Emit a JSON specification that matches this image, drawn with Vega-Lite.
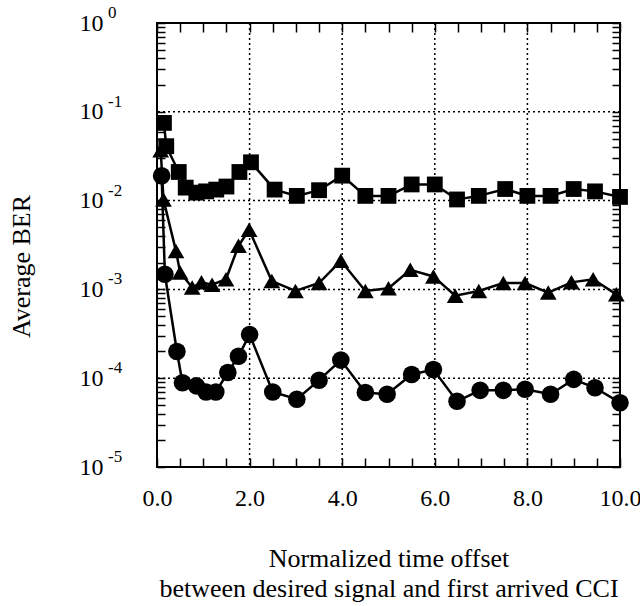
{
  "$schema": "https://vega.github.io/schema/vega-lite/v6.json",
  "width": 463,
  "height": 444,
  "autosize": {"type": "none"},
  "padding": {"left": 157, "top": 23, "right": 20, "bottom": 139},
  "background": "white",
  "config": {
    "view": {"stroke": "black", "strokeWidth": 2},
    "font": "Liberation Serif"
  },
  "datasets": {
    "ber": [
      {"series": "square", "t": 0.15, "ber": 0.075},
      {"series": "square", "t": 0.2, "ber": 0.041},
      {"series": "square", "t": 0.47, "ber": 0.021},
      {"series": "square", "t": 0.62, "ber": 0.014},
      {"series": "square", "t": 0.85, "ber": 0.0123},
      {"series": "square", "t": 1.06, "ber": 0.0127},
      {"series": "square", "t": 1.28, "ber": 0.0133},
      {"series": "square", "t": 1.5, "ber": 0.0144},
      {"series": "square", "t": 1.78, "ber": 0.021},
      {"series": "square", "t": 2.03, "ber": 0.027},
      {"series": "square", "t": 2.54, "ber": 0.0133},
      {"series": "square", "t": 3.02, "ber": 0.0113},
      {"series": "square", "t": 3.5, "ber": 0.0131},
      {"series": "square", "t": 4.0, "ber": 0.0191},
      {"series": "square", "t": 4.5, "ber": 0.0113},
      {"series": "square", "t": 5.0, "ber": 0.0113},
      {"series": "square", "t": 5.5, "ber": 0.0152},
      {"series": "square", "t": 6.0, "ber": 0.0152},
      {"series": "square", "t": 6.48, "ber": 0.0103},
      {"series": "square", "t": 6.95, "ber": 0.0113},
      {"series": "square", "t": 7.52, "ber": 0.0135},
      {"series": "square", "t": 8.0, "ber": 0.0113},
      {"series": "square", "t": 8.5, "ber": 0.0113},
      {"series": "square", "t": 9.0, "ber": 0.0135},
      {"series": "square", "t": 9.46, "ber": 0.0127},
      {"series": "square", "t": 10.0, "ber": 0.011},
      {"series": "triangle", "t": 0.08, "ber": 0.037},
      {"series": "triangle", "t": 0.14, "ber": 0.0103},
      {"series": "triangle", "t": 0.41, "ber": 0.0027},
      {"series": "triangle", "t": 0.5, "ber": 0.00155},
      {"series": "triangle", "t": 0.76, "ber": 0.00105},
      {"series": "triangle", "t": 0.96, "ber": 0.0012},
      {"series": "triangle", "t": 1.19, "ber": 0.00113},
      {"series": "triangle", "t": 1.49, "ber": 0.0013},
      {"series": "triangle", "t": 1.76, "ber": 0.0031},
      {"series": "triangle", "t": 1.99, "ber": 0.0047},
      {"series": "triangle", "t": 2.48, "ber": 0.00124},
      {"series": "triangle", "t": 2.99, "ber": 0.00096},
      {"series": "triangle", "t": 3.5, "ber": 0.00118},
      {"series": "triangle", "t": 3.97, "ber": 0.0021},
      {"series": "triangle", "t": 4.5, "ber": 0.00096},
      {"series": "triangle", "t": 5.0, "ber": 0.00103},
      {"series": "triangle", "t": 5.47, "ber": 0.00166},
      {"series": "triangle", "t": 5.97, "ber": 0.0014},
      {"series": "triangle", "t": 6.44, "ber": 0.00085},
      {"series": "triangle", "t": 6.95, "ber": 0.00096},
      {"series": "triangle", "t": 7.48, "ber": 0.00118},
      {"series": "triangle", "t": 7.95, "ber": 0.00118},
      {"series": "triangle", "t": 8.45, "ber": 0.00092},
      {"series": "triangle", "t": 8.95, "ber": 0.0012},
      {"series": "triangle", "t": 9.42, "ber": 0.0013},
      {"series": "triangle", "t": 9.92, "ber": 0.00088},
      {"series": "circle", "t": 0.1, "ber": 0.019},
      {"series": "circle", "t": 0.17, "ber": 0.00148},
      {"series": "circle", "t": 0.43, "ber": 0.0002},
      {"series": "circle", "t": 0.55, "ber": 0.000089},
      {"series": "circle", "t": 0.85, "ber": 0.000082},
      {"series": "circle", "t": 1.06, "ber": 0.00007},
      {"series": "circle", "t": 1.27, "ber": 0.00007},
      {"series": "circle", "t": 1.53, "ber": 0.000116},
      {"series": "circle", "t": 1.76, "ber": 0.000177},
      {"series": "circle", "t": 2.0, "ber": 0.00031},
      {"series": "circle", "t": 2.5, "ber": 0.00007},
      {"series": "circle", "t": 3.02, "ber": 0.000058},
      {"series": "circle", "t": 3.5, "ber": 0.000095},
      {"series": "circle", "t": 3.97, "ber": 0.00016},
      {"series": "circle", "t": 4.5, "ber": 0.000069},
      {"series": "circle", "t": 4.97, "ber": 0.000066},
      {"series": "circle", "t": 5.5, "ber": 0.00011},
      {"series": "circle", "t": 5.97, "ber": 0.000125},
      {"series": "circle", "t": 6.48, "ber": 0.000055},
      {"series": "circle", "t": 6.98, "ber": 0.000073},
      {"series": "circle", "t": 7.48, "ber": 0.000073},
      {"series": "circle", "t": 7.95, "ber": 0.000075},
      {"series": "circle", "t": 8.5, "ber": 0.000066},
      {"series": "circle", "t": 9.0, "ber": 0.000097},
      {"series": "circle", "t": 9.46, "ber": 0.000078},
      {"series": "circle", "t": 10.0, "ber": 0.000053}
    ],
    "ygrid": [{"v": 0.1}, {"v": 0.01}, {"v": 0.001}, {"v": 0.0001}],
    "xgrid": [{"v": 2}, {"v": 4}, {"v": 6}, {"v": 8}],
    "exps": [
      {"v": 1, "e": "0"},
      {"v": 0.1, "e": "-1"},
      {"v": 0.01, "e": "-2"},
      {"v": 0.001, "e": "-3"},
      {"v": 0.0001, "e": "-4"},
      {"v": 0.00001, "e": "-5"}
    ]
  },
  "resolve": {"axis": {"x": "independent", "y": "independent"}},
  "layer": [
    {
      "data": {"name": "ygrid"},
      "mark": {"type": "rule", "color": "black", "strokeWidth": 1.5, "strokeDash": [2, 3]},
      "encoding": {
        "y": {"field": "v", "type": "quantitative", "scale": {"type": "log", "domain": [0.00001, 1], "nice": false}, "axis": null}
      }
    },
    {
      "data": {"name": "xgrid"},
      "mark": {"type": "rule", "color": "black", "strokeWidth": 1.5, "strokeDash": [2, 3]},
      "encoding": {
        "x": {"field": "v", "type": "quantitative", "scale": {"domain": [0, 10], "nice": false, "zero": false}, "axis": null}
      }
    },
    {
      "data": {"name": "ber"},
      "mark": {"type": "line", "color": "black", "strokeWidth": 2.5},
      "encoding": {
        "x": {
          "field": "t", "type": "quantitative",
          "scale": {"domain": [0, 10], "nice": false, "zero": false},
          "axis": {
            "orient": "bottom",
            "values": [0, 0.5, 1, 1.5, 2, 2.5, 3, 3.5, 4, 4.5, 5, 5.5, 6, 6.5, 7, 7.5, 8, 8.5, 9, 9.5, 10],
            "labelExpr": "datum.value % 2 == 0 ? format(datum.value, '.1f') : ''",
            "labelFont": "Liberation Serif", "labelFontSize": 24, "labelColor": "black",
            "labelOverlap": false, "labelPadding": 28, "labelFlush": false,
            "tickSize": -9, "tickColor": "black", "tickWidth": 1.5,
            "domain": false, "grid": false,
            "title": ["Normalized time offset", "between desired signal and first arrived CCI"],
            "titleFont": "Liberation Serif", "titleFontSize": 26, "titleFontWeight": "normal", "titleColor": "black",
            "titleLineHeight": 30, "titlePadding": 35
          }
        },
        "y": {
          "field": "ber", "type": "quantitative",
          "scale": {"type": "log", "domain": [0.00001, 1], "nice": false},
          "axis": {
            "orient": "left",
            "values": [1, 0.9, 0.8, 0.7, 0.6, 0.5, 0.4, 0.3, 0.2, 0.1, 0.09, 0.08, 0.07, 0.06, 0.05, 0.04, 0.03, 0.02, 0.01, 0.009, 0.008, 0.007, 0.006, 0.005, 0.004, 0.003, 0.002, 0.001, 0.0009, 0.0008, 0.0007, 0.0006, 0.0005, 0.0004, 0.0003, 0.0002, 0.0001, 0.00009, 0.00008, 0.00007, 0.00006, 0.00005, 0.00004, 0.00003, 0.00002, 0.00001],
            "labelExpr": "abs(log(datum.value)/LN10 - round(log(datum.value)/LN10)) < 0.000001 ? '10' : ''",
            "labelFont": "Liberation Serif", "labelFontSize": 24, "labelColor": "black",
            "labelOverlap": false, "labelPadding": 62, "labelFlush": false,
            "tickSize": -8, "tickColor": "black", "tickWidth": 1.5,
            "domain": false, "grid": false,
            "title": "Average BER",
            "titleFont": "Liberation Serif", "titleFontSize": 26, "titleFontWeight": "normal", "titleColor": "black",
            "titlePadding": 45, "titleY": 243
          }
        },
        "detail": {"field": "series"}
      }
    },
    {
      "data": {"name": "ber"},
      "mark": {"type": "point", "filled": true, "opacity": 1, "color": "black"},
      "encoding": {
        "x": {
          "field": "t", "type": "quantitative",
          "scale": {"domain": [0, 10], "nice": false, "zero": false},
          "axis": {
            "orient": "top",
            "values": [0, 0.5, 1, 1.5, 2, 2.5, 3, 3.5, 4, 4.5, 5, 5.5, 6, 6.5, 7, 7.5, 8, 8.5, 9, 9.5, 10],
            "labels": false, "tickSize": -9, "tickColor": "black", "tickWidth": 1.5,
            "domain": false, "grid": false, "title": null
          }
        },
        "y": {
          "field": "ber", "type": "quantitative",
          "scale": {"type": "log", "domain": [0.00001, 1], "nice": false},
          "axis": {
            "orient": "right",
            "values": [1, 0.9, 0.8, 0.7, 0.6, 0.5, 0.4, 0.3, 0.2, 0.1, 0.09, 0.08, 0.07, 0.06, 0.05, 0.04, 0.03, 0.02, 0.01, 0.009, 0.008, 0.007, 0.006, 0.005, 0.004, 0.003, 0.002, 0.001, 0.0009, 0.0008, 0.0007, 0.0006, 0.0005, 0.0004, 0.0003, 0.0002, 0.0001, 0.00009, 0.00008, 0.00007, 0.00006, 0.00005, 0.00004, 0.00003, 0.00002, 0.00001],
            "labels": false, "tickSize": -8, "tickColor": "black", "tickWidth": 1.5,
            "domain": false, "grid": false, "title": null
          }
        },
        "shape": {
          "field": "series", "type": "nominal",
          "scale": {"domain": ["square", "triangle", "circle"], "range": ["square", "triangle-up", "circle"]},
          "legend": null
        },
        "size": {
          "field": "series", "type": "nominal",
          "scale": {"domain": ["square", "triangle", "circle"], "range": [250, 310, 240]},
          "legend": null
        }
      }
    },
    {
      "data": {"name": "exps"},
      "mark": {"type": "text", "font": "Liberation Serif", "fontSize": 17, "color": "black", "align": "left", "baseline": "middle", "dx": -49, "dy": -10},
      "encoding": {
        "x": {"datum": 0, "type": "quantitative", "scale": {"domain": [0, 10], "nice": false, "zero": false}, "axis": null},
        "y": {"field": "v", "type": "quantitative", "scale": {"type": "log", "domain": [0.00001, 1], "nice": false}, "axis": null},
        "text": {"field": "e"}
      }
    }
  ]
}
